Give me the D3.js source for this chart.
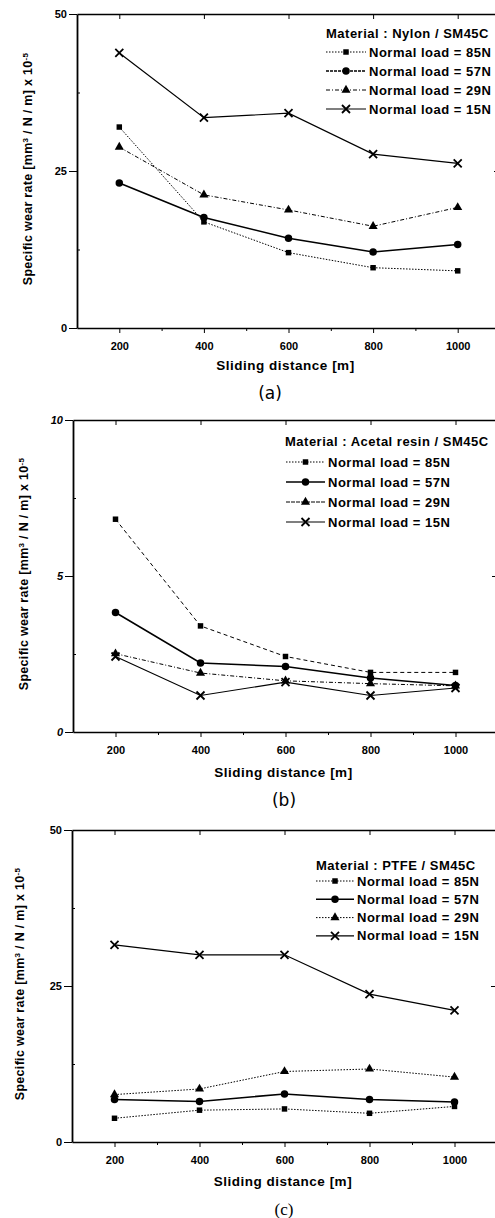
<!DOCTYPE html>
<html>
<head>
<meta charset="utf-8">
<script src="https://cdn.jsdelivr.net/npm/d3@7"></script>
<style>
  body { margin: 0; background: #fff; }
  svg { display: block; font-family: "Liberation Sans", Arial, sans-serif; }
  .tick text { font-weight: bold; font-size: 11px; fill: #000; }
  .axis path, .axis line { stroke: #000; }
</style>
</head>
<body>
<script>
// Specific wear rate vs sliding distance, three polymer/SM45C pairs
const distances = [200, 400, 600, 800, 1000];
const loads = ["85N", "57N", "29N", "15N"];
const xMajor = [200, 400, 600, 800, 1000];
const xMinor = [300, 500, 700, 900];

// (a) Nylon
const nylon85 = [32.0, 16.9, 12.0, 9.6, 9.1];
const nylon57 = [23.1, 17.6, 14.3, 12.1, 13.3];
const nylon29 = [28.8, 21.2, 18.8, 16.2, 19.2];
const nylon15 = [43.8, 33.5, 34.2, 27.7, 26.2];

// (b) Acetal resin
const acetal85 = [6.82, 3.40, 2.42, 1.91, 1.91];
const acetal57 = [3.83, 2.21, 2.10, 1.73, 1.49];
const acetal29 = [2.51, 1.89, 1.64, 1.55, 1.48];
const acetal15 = [2.42, 1.17, 1.60, 1.17, 1.41];

// (c) PTFE
const ptfe85 = [3.8, 5.1, 5.3, 4.6, 5.7];
const ptfe57 = [6.8, 6.5, 7.7, 6.8, 6.4];
const ptfe29 = [7.6, 8.5, 11.3, 11.7, 10.4];
const ptfe15 = [31.6, 30.0, 30.0, 23.7, 21.1];

const yTicksA = [0, 25, 50];
const yTicksB = [0, 5, 10];
const yTicksC = [0, 25, 50];

const W = 495, H = 1218;
const svg = d3.select("body").append("svg").attr("width", W).attr("height", H);

// marker per load: square, circle, triangle, cross
const markerKind = ["square", "circle", "triangle", "cross"];
const lineWidth = [1, 1.6, 1, 1.2];

function drawMarker(g, kind, cx, cy) {
  if (kind === "cross") {
    const s = 4;
    g.append("path")
      .attr("d", `M${cx - s},${cy - s}L${cx + s},${cy + s}M${cx - s},${cy + s}L${cx + s},${cy - s}`)
      .attr("stroke", "#000").attr("stroke-width", 1.8).attr("fill", "none");
    return;
  }
  const sym = kind === "square" ? d3.symbolSquare : kind === "circle" ? d3.symbolCircle : d3.symbolTriangle;
  const size = kind === "square" ? 30 : kind === "circle" ? 44 : 36;
  g.append("path")
    .attr("d", d3.symbol(sym, size)())
    .attr("transform", `translate(${cx},${cy})`)
    .attr("fill", "#000");
}

function drawPanel(p) {
  const x = d3.scaleLinear().domain([100, 1100]).range([p.left, p.right]);
  const y = d3.scaleLinear().domain([0, p.yTicks[2]]).range([p.bottom, p.top]);
  const g = svg.append("g");

  // bottom axis with labels
  g.append("g").attr("class", "axis").attr("transform", `translate(0,${p.bottom})`)
    .call(d3.axisBottom(x).tickValues(xMajor).tickSize(5).tickSizeOuter(0).tickPadding(9).tickFormat(d3.format("d")))
    .call(a => a.select(".domain").attr("stroke-width", 1.6));
  g.append("g").attr("class", "axis").attr("transform", `translate(0,${p.bottom})`)
    .call(d3.axisBottom(x).tickValues(xMinor).tickSize(3).tickSizeOuter(0).tickFormat(""))
    .call(a => a.select(".domain").remove());
  // top frame, inward ticks
  g.append("g").attr("class", "axis").attr("transform", `translate(0,${p.top})`)
    .call(d3.axisBottom(x).tickValues(xMajor).tickSize(5).tickSizeOuter(0).tickFormat(""))
    .call(a => a.select(".domain").attr("stroke-width", 1.6));
  // left axis
  g.append("g").attr("class", "axis").attr("transform", `translate(${p.left},0)`)
    .call(d3.axisLeft(y).tickValues(p.yTicks).tickSize(8).tickSizeOuter(0).tickPadding(2))
    .call(a => a.select(".domain").attr("stroke-width", 1.8))
    .call(a => a.selectAll(".tick text").style("font-style", p.italicY ? "italic" : null));
  const q = p.yTicks[2] / 4;
  g.append("g").attr("class", "axis").attr("transform", `translate(${p.left},0)`)
    .call(d3.axisRight(y).tickValues([q, 3 * q]).tickSize(3).tickSizeOuter(0).tickFormat(""))
    .call(a => a.select(".domain").remove());
  // right frame sits past the cut edge; only its mid tick shows
  g.append("g").attr("class", "axis").attr("transform", `translate(${p.right},0)`)
    .call(d3.axisLeft(y).tickValues([p.yTicks[1]]).tickSize(6).tickSizeOuter(0).tickFormat(""))
    .call(a => a.select(".domain").remove());

  // y title
  const yt = g.append("text")
    .attr("transform", `translate(${p.titleX},${(p.top + p.bottom) / 2 - 2}) rotate(-90)`)
    .attr("text-anchor", "middle")
    .style("font-weight", "bold").style("font-size", "12.5px").style("letter-spacing", "0.3px");
  yt.append("tspan").text("Specific wear rate [mm");
  yt.append("tspan").attr("baseline-shift", "super").style("font-size", "8px").text("3");
  yt.append("tspan").text(" / N / m] x 10");
  yt.append("tspan").attr("baseline-shift", "super").style("font-size", "8px").text("-5");

  // x title
  g.append("text")
    .attr("x", (p.left + 458) / 2 + 18).attr("y", p.bottom + p.xTitleDy)
    .attr("text-anchor", "middle")
    .style("font-weight", "bold").style("font-size", "13.5px").style("letter-spacing", "0.5px")
    .text("Sliding distance [m]");

  // caption
  g.append("text")
    .attr("x", p.capX).attr("y", p.capY).attr("text-anchor", "middle")
    .style("font-family", p.capFont).style("font-size", "17px")
    .text(p.caption);

  // series
  const line = d3.line().x((d, i) => x(distances[i])).y(d => y(d));
  p.series.forEach((vals, k) => {
    g.append("path").datum(vals)
      .attr("d", line).attr("fill", "none").attr("stroke", "#000")
      .attr("stroke-width", lineWidth[k])
      .attr("stroke-dasharray", p.dash[k]);
    vals.forEach((v, i) => drawMarker(g, markerKind[k], x(distances[i]), y(v)));
  });

  // legend
  const lg = g.append("g");
  lg.append("text").attr("x", p.legX).attr("y", p.legY + 4.5)
    .style("font-weight", "bold").style("font-size", "13px").style("letter-spacing", "0.5px")
    .text(p.material);
  loads.forEach((ld, k) => {
    const ry = p.legY + p.legFirst + k * p.legStep;
    lg.append("line")
      .attr("x1", p.legLineX).attr("x2", p.legLineX + p.legLineW)
      .attr("y1", ry).attr("y2", ry)
      .attr("stroke", "#000").attr("stroke-width", lineWidth[k])
      .attr("stroke-dasharray", p.legDash[k]);
    drawMarker(lg, markerKind[k], p.legLineX + p.legLineW / 2, ry);
    lg.append("text").attr("x", p.legLineX + p.legLineW + 3).attr("y", ry + 4.5)
      .style("font-weight", "bold").style("font-size", "13px").style("letter-spacing", "0.5px")
      .text(`Normal load = ${ld}`);
  });
}

drawPanel({
  left: 77, right: 500, top: 14, bottom: 328, yTicks: yTicksA,
  series: [nylon85, nylon57, nylon29, nylon15],
  dash: ["1.5,1.5", null, "4,2,1,2", null],
  legDash: ["1.5,1.5", "3,1", "4,2,1,2", null],
  material: "Material : Nylon / SM45C",
  legX: 326, legY: 33, legFirst: 19, legStep: 19, legLineX: 326, legLineW: 40,
  titleX: 32, xTitleDy: 42, caption: "(a)", capX: 270, capY: 399, capFont: "DejaVu Sans"
});

drawPanel({
  left: 73, right: 498, top: 420, bottom: 732, yTicks: yTicksB, italicY: true,
  series: [acetal85, acetal57, acetal29, acetal15],
  dash: ["4,3", null, "4,2,1,2", null],
  legDash: ["1.5,1.5", null, "4,1", null],
  material: "Material : Acetal resin / SM45C",
  legX: 285, legY: 441, legFirst: 21, legStep: 20, legLineX: 286, legLineW: 39,
  titleX: 28, xTitleDy: 45, caption: "(b)", capX: 284, capY: 806, capFont: "DejaVu Sans"
});

drawPanel({
  left: 72, right: 497, top: 830, bottom: 1142, yTicks: yTicksC,
  series: [ptfe85, ptfe57, ptfe29, ptfe15],
  dash: ["1.5,1.5", null, "1.5,1.5", null],
  legDash: ["1.5,1.5", null, "1.5,1.5", null],
  material: "Material : PTFE / SM45C",
  legX: 316, legY: 865, legFirst: 16, legStep: 18.3, legLineX: 316, legLineW: 38,
  titleX: 24, xTitleDy: 44, caption: "(c)", capX: 284, capY: 1215, capFont: "Liberation Serif"
});
</script>
</body>
</html>
